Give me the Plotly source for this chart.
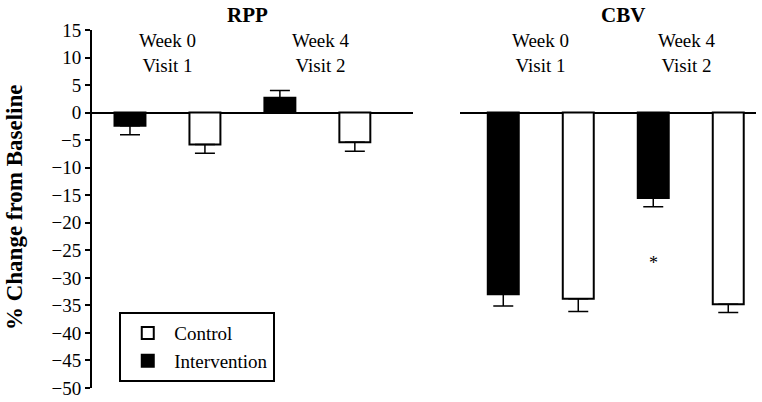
import plotly.graph_objects as go

# data (% change from baseline, mean and SE)
visits = ["Week 0", "Week 4"]
visit_labels = ["Week 0<br>Visit 1", "Week 4<br>Visit 2"]

rpp_intervention = [-2.4, 2.7]
rpp_intervention_se = [1.6, 1.3]
rpp_control = [-5.8, -5.4]
rpp_control_se = [1.6, 1.6]

cbv_intervention = [-33.0, -15.5]
cbv_intervention_se = [2.1, 1.6]
cbv_control = [-33.8, -34.8]
cbv_control_se = [2.3, 1.5]

y_ticks = list(range(15, -51, -5))

FONT = "Liberation Serif, Times New Roman, serif"


def err(vals, se):
    # one sided error bars, pointing away from zero
    up = [s if v > 0 else 0 for v, s in zip(vals, se)]
    down = [s if v <= 0 else 0 for v, s in zip(vals, se)]
    return dict(type="data", symmetric=False, array=up, arrayminus=down,
                color="black", thickness=1.5, width=10)


fig = go.Figure()

panels = [("x", "y", rpp_intervention, rpp_intervention_se, rpp_control, rpp_control_se, True),
          ("x2", "y2", cbv_intervention, cbv_intervention_se, cbv_control, cbv_control_se, False)]

for xa, ya, iv, ise, cv, cse, show in panels:
    fig.add_trace(go.Bar(x=visits, y=iv, name="Intervention", xaxis=xa, yaxis=ya,
                         marker=dict(color="black", line=dict(color="black", width=2)),
                         error_y=err(iv, ise), offsetgroup="int", showlegend=show,
                         legendrank=2))
    fig.add_trace(go.Bar(x=visits, y=cv, name="Control", xaxis=xa, yaxis=ya,
                         marker=dict(color="white", line=dict(color="black", width=2)),
                         error_y=err(cv, cse), offsetgroup="ctl", showlegend=show,
                         legendrank=1))

annotations = []
for xa, ya in [("x", "y"), ("x2", "y2")]:
    for v, lab, dx in zip(visits, visit_labels, [0, 4]):
        annotations.append(dict(x=v, y=10.8, xref=xa, yref=ya, text=lab, showarrow=False,
                                xanchor="center", yanchor="middle",
                                xshift=dx if xa == "x" else -dx,
                                font=dict(family=FONT, size=19, color="black")))

annotations += [
    dict(x=0.236, y=1.042, xref="paper", yref="paper", text="<b>RPP</b>", showarrow=False,
         xanchor="center", yanchor="middle", font=dict(family=FONT, size=21, color="black")),
    dict(x=0.80, y=1.042, xref="paper", yref="paper", text="<b>CBV</b>", showarrow=False,
         xanchor="center", yanchor="middle", font=dict(family=FONT, size=21, color="black")),
    dict(x=-0.114, y=0.506, xref="paper", yref="paper", text="<b>% Change from Baseline</b>",
         textangle=-90, showarrow=False, xanchor="center", yanchor="middle",
         font=dict(family=FONT, size=23, color="black")),
    dict(x="Week 4", y=-27.3, xref="x2", yref="y2", text="*", xshift=-37.5, showarrow=False,
         xanchor="center", yanchor="middle", font=dict(family=FONT, size=18, color="black")),
]

yax = dict(range=[-50, 15], tickvals=y_ticks, showgrid=False, zeroline=True,
           zerolinecolor="black", zerolinewidth=2, automargin=False)

fig.update_layout(
    template="none",
    width=762, height=402,
    margin=dict(l=91, r=6, t=30, b=14),
    paper_bgcolor="white", plot_bgcolor="white",
    font=dict(family=FONT, size=18, color="black"),
    barmode="group", bargap=0, bargroupgap=0.587,
    xaxis=dict(domain=[0, 0.484], range=[-0.51, 1.637], visible=False, automargin=False),
    xaxis2=dict(domain=[0.555, 1], range=[-0.538, 1.435], visible=False, automargin=False),
    yaxis=dict(yax, showline=True, linecolor="black", linewidth=2, ticks="outside",
               ticklen=5, tickwidth=2, tickcolor="black", anchor="free", position=0,
               tickfont=dict(family=FONT, size=19, color="black")),
    yaxis2=dict(yax, anchor="x2", matches="y", showticklabels=False, ticks="", showline=False),
    showlegend=True,
    legend=dict(x=0.0425, y=0.212, xanchor="left", yanchor="top", bgcolor="white",
                bordercolor="black", borderwidth=2, traceorder="normal", itemwidth=43,
                font=dict(family=FONT, size=19, color="black")),
    annotations=annotations,
)

# drop the default 8px page margin so the figure fills the window
fig.write_html("out.html", config={"displayModeBar": False},
               post_script="document.body.style.margin = '0';")
